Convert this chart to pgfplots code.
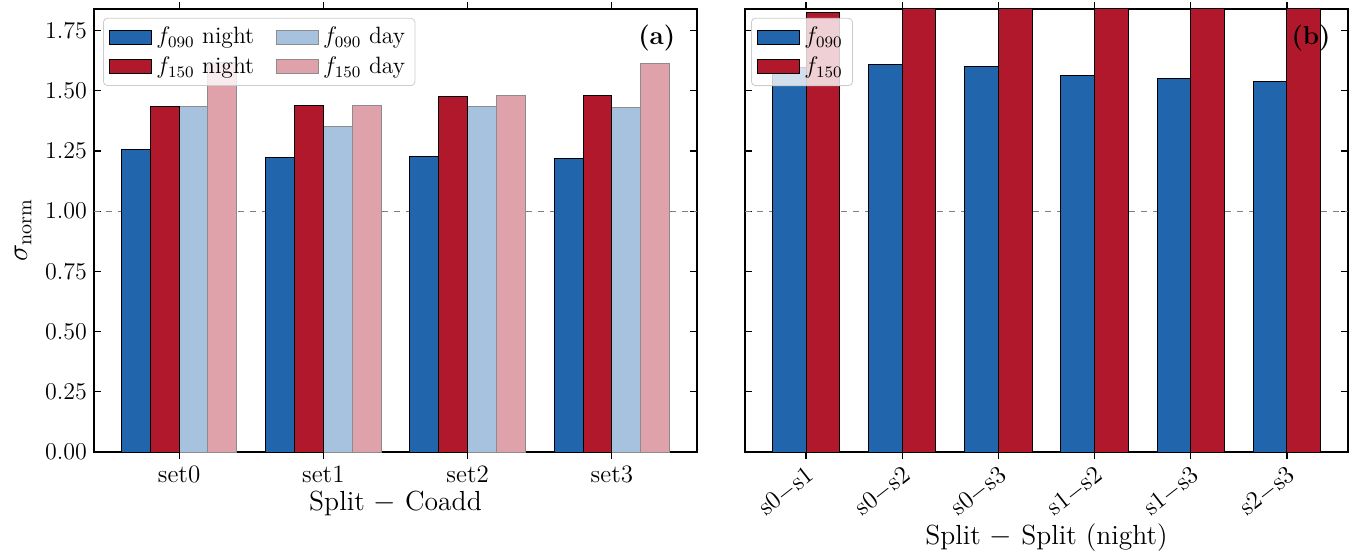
\documentclass[border=0pt]{standalone}
\usepackage{pgfplots}
\pgfplotsset{compat=1.18}
\definecolor{cblue}{HTML}{2166AC}
\definecolor{cred}{HTML}{B2182B}
\definecolor{lblue}{HTML}{A6C2DE}
\definecolor{lred}{HTML}{E0A2AA}
\pgfplotsset{
  common/.style={
    scale only axis, width=301.5pt, height=221.5pt,
    ymin=0, ymax=1.84,
    ytick={0,0.25,0.5,0.75,1,1.25,1.5,1.75},
    yticklabel style={/pgf/number format/.cd, fixed, fixed zerofill, precision=2},
    tick align=inside, tick pos=both,
    major tick length=3.5pt,
    axis line style={line width=0.8pt},
    every tick/.style={black, line width=0.6pt},
    ybar,
    tick label style={font=\fontsize{12.5}{15}\selectfont},
    label style={font=\fontsize{13.8}{16}\selectfont},
    legend cell align=left,
    legend image code/.code={\draw[##1, sharp corners, fill opacity=1, draw opacity=1] (0pt,-3.5pt) rectangle (21pt,3.5pt);},
    legend style={draw=black!20, rounded corners=2pt, fill=white, fill opacity=0.8, text opacity=1,
      draw opacity=1, font=\fontsize{11.8}{14}\selectfont, inner xsep=3pt, inner ysep=2.5pt,
      row sep=1pt, /tikz/every even column/.append style={column sep=9pt}},
  },
  dk/.style={fill=#1, draw=black, line width=0.5pt},
  lt/.style={fill=#1, draw=black!45, line width=0.5pt},
}
\pgfplotstableread{
x f090n f150n f090d f150d
0 1.257 1.433 1.433 1.618
1 1.225 1.440 1.354 1.440
2 1.228 1.478 1.435 1.480
3 1.220 1.480 1.430 1.615
}\tabA
\pgfplotstableread{
x f090 f150
0 1.595 1.825
1 1.610 1.95
2 1.600 1.95
3 1.562 1.95
4 1.553 1.95
5 1.540 1.95
}\tabB
\begin{document}
\begin{tikzpicture}
\path[use as bounding box] (-47pt,-53pt) rectangle (634.5pt,226pt);
\begin{axis}[common, at={(0pt,0pt)}, anchor=south west,
  xmin=-0.59, xmax=3.59, xtick={0,1,2,3}, xticklabels={set0,set1,set2,set3},
  ylabel={$\sigma_{\rm norm}$}, xlabel={Split $-$ Coadd},
  xlabel style={at={(axis description cs:0.5,0)}, anchor=center, yshift=-25.5pt},
  legend columns=2,
  legend style={at={(rel axis cs:0.015,0.98)}, anchor=north west},
  bar width=0.2]
\addplot[sharp plot, dashed, black!50, line width=0.6pt, forget plot] coordinates {(-0.59,1) (3.59,1)};
\addplot[dk=cblue, bar shift=-0.3] table[x=x,y=f090n] {\tabA};
\addlegendentry{$f_{090}$ night}
\addplot[lt=lblue, bar shift=0.1] table[x=x,y=f090d] {\tabA};
\addlegendentry{$f_{090}$ day}
\addplot[dk=cred, bar shift=-0.1] table[x=x,y=f150n] {\tabA};
\addlegendentry{$f_{150}$ night}
\addplot[lt=lred, bar shift=0.3] table[x=x,y=f150d] {\tabA};
\addlegendentry{$f_{150}$ day}
\node[anchor=north east, inner sep=1pt, font=\fontsize{13}{16}\selectfont\bfseries] at (rel axis cs:0.968,0.97) {(a)};
\end{axis}
\begin{axis}[common, at={(325.5pt,0pt)}, anchor=south west,
  xmin=-0.635, xmax=5.635, xtick={0,1,2,3,4,5},
  xticklabels={s0$-$s1,s0$-$s2,s0$-$s3,s1$-$s2,s1$-$s3,s2$-$s3},
  xticklabel style={rotate=38, anchor=north east, inner sep=2pt},
  yticklabels={},
  xlabel={Split $-$ Split (night)},
  xlabel style={at={(axis description cs:0.5,0)}, anchor=center, yshift=-43pt},
  legend style={at={(rel axis cs:0.01,0.98)}, anchor=north west},
  bar width=0.35]
\addplot[sharp plot, dashed, black!50, line width=0.6pt, forget plot] coordinates {(-0.635,1) (5.635,1)};
\addplot[dk=cblue, bar shift=-0.175] table[x=x,y=f090] {\tabB};
\addlegendentry{$f_{090}$}
\addplot[dk=cred, bar shift=0.175] table[x=x,y=f150] {\tabB};
\addlegendentry{$f_{150}$}
\node[anchor=north east, inner sep=1pt, font=\fontsize{13}{16}\selectfont\bfseries] at (rel axis cs:0.975,0.97) {(b)};
\end{axis}
\end{tikzpicture}
\end{document}
